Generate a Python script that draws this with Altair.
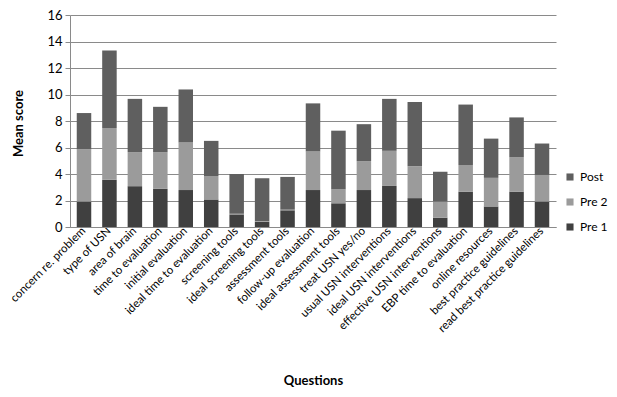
import altair as alt
import pandas as pd

questions = [
    "concern re. problem", "type of USN", "area of brain", "time to evaluation",
    "initial evaluation", "ideal time to evaluation", "screening tools",
    "ideal screening tools", "assessment tools", "follow-up evaluation",
    "ideal assessment tools", "treat USN yes/no", "usual USN interventions",
    "ideal USN interventions", "effective USN interventions",
    "EBP time to evaluation", "online resources", "best practice guidelines",
    "read best practice guidelines",
]
pre1 = [1.92, 3.56, 3.08, 2.88, 2.79, 2.08, 0.95, 0.39, 1.26, 2.79,
        1.79, 2.79, 3.10, 2.18, 0.70, 2.67, 1.55, 2.67, 1.92]
pre2 = [3.95, 3.91, 2.57, 2.77, 3.59, 1.77, 0.05, 0.05, 0.05, 2.91,
        1.05, 2.18, 2.65, 2.40, 1.22, 2.01, 2.16, 2.59, 2.01]
post = [2.73, 5.86, 4.02, 3.42, 4.00, 2.65, 3.00, 3.24, 2.47, 3.63,
        4.43, 2.79, 3.92, 4.85, 2.25, 4.56, 2.96, 3.01, 2.37]

series = ["Post", "Pre 2", "Pre 1"]
colors = ["#5f5f5f", "#9b9b9b", "#404040"]

rows = []
for i, q in enumerate(questions):
    for name, vals, order in (("Pre 1", pre1, 1), ("Pre 2", pre2, 2), ("Post", post, 3)):
        rows.append({"question": q, "series": name, "value": vals[i], "ord": order})
df = pd.DataFrame(rows)

FONT = "Lato"

chart = alt.Chart(df).mark_bar().encode(
    x=alt.X("question:N", sort=questions,
            scale=alt.Scale(paddingInner=0.43, paddingOuter=0.265),
            axis=alt.Axis(title="Questions", labelAngle=315, labelAlign="right",
                          labelBaseline="middle", labelPadding=2, ticks=False,
                          domainColor="#8a8a8a", labelFontSize=11.5,
                          labelColor="#000000", titleFontSize=13,
                          titleFontWeight="bold", titleColor="#000000",
                          titleY=153, titleBaseline="middle")),
    y=alt.Y("value:Q", stack="zero",
            scale=alt.Scale(domain=[0, 16], nice=False),
            axis=alt.Axis(title="Mean score", values=list(range(0, 17, 2)),
                          tickSize=5, tickColor="#8a8a8a", domainColor="#8a8a8a",
                          gridColor="#8a8a8a", labelFontSize=13, labelPadding=3,
                          labelColor="#000000", titleFontSize=13,
                          titleFontWeight="bold", titleColor="#000000",
                          titleX=-52, titleY=108, titleAlign="center",
                          titleBaseline="middle")),
    color=alt.Color("series:N", scale=alt.Scale(domain=series, range=colors),
                    legend=alt.Legend(title=None, orient="none", legendX=494,
                                      legendY=156, symbolType="square",
                                      symbolSize=50, symbolStrokeWidth=0,
                                      labelFontSize=12, labelColor="#000000",
                                      rowPadding=13, labelOffset=4)),
    order=alt.Order("ord:Q", sort="ascending"),
).properties(
    width=486, height=212,
    autosize=alt.AutoSizeParams(type="none"),
    padding={"left": 62, "top": 7, "right": 53, "bottom": 160},
).configure(font=FONT).configure_view(stroke=None).configure_axis(gridWidth=1)

chart.save("out.html", embed_options={"renderer": "svg", "actions": False})
